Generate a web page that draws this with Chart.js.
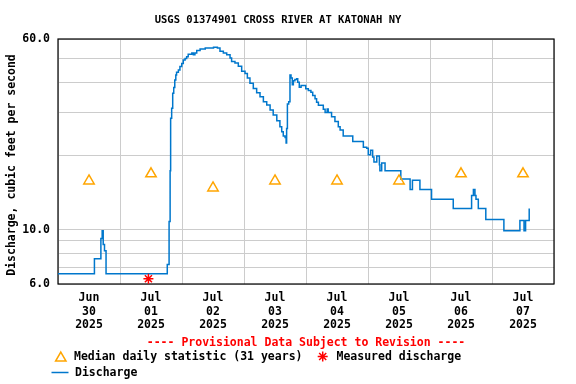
<!DOCTYPE html>
<html>
<head>
<meta charset="utf-8">
<script src="https://cdn.jsdelivr.net/npm/chart.js@4/dist/chart.umd.min.js"></script>
<style>
  html, body { margin: 0; padding: 0; background: #ffffff; }
  #wrap { position: relative; width: 576px; height: 384px; }
  canvas { display: block; }
</style>
</head>
<body>
<div id="wrap"><canvas id="c" width="576" height="384"></canvas></div>
<script>
// ---- data (hours since 2025-06-30 00:00, discharge in cfs) ----
const dischargeHours = [
  0, 14.1, 16.6, 17.1, 17.5, 18.0, 18.6, 42.3, 43.0, 43.4,
  43.6, 44.0, 44.4, 44.8, 45.2, 45.6, 45.9, 46.6, 47.2, 47.9,
  48.5, 49.2, 49.8, 50.4, 51.8, 52.4, 53.0, 53.7, 55.0, 57.0,
  60.2, 61.7, 62.7, 64.0, 65.3, 66.6, 67.2, 68.5, 69.8, 71.1,
  72.4, 73.3, 74.3, 75.6, 76.9, 78.2, 79.5, 80.8, 82.1, 83.3,
  84.7, 85.9, 86.6, 87.2, 87.9, 88.3, 88.5, 88.8, 89.3, 89.8,
  90.2, 90.7, 91.1, 91.7, 92.4, 92.8, 93.4, 94.1, 95.9, 96.9,
  97.9, 98.6, 99.5, 100.1, 100.8, 102.7, 103.4, 104.2, 104.6, 105.9,
  107.2, 108.5, 109.2, 110.4, 114.1, 118.2, 119.5, 120.1, 121.0, 121.8,
  122.3, 123.4, 124.4, 124.6, 125.3, 126.6, 132.7, 136.3, 137.2, 140.1,
  144.6, 153.0, 160.1, 160.8, 161.4, 161.8, 162.7, 165.6, 172.6, 178.8,
  180.4, 181.0, 182.4
];
const dischargeCfs = [
  6.6, 7.6, 9.2, 9.9, 8.7, 8.2, 6.6, 7.2, 10.8, 17.4,
  28.5, 31.3, 36.0, 38.0, 40.8, 42.8, 43.9, 44.8, 46.3, 47.7,
  49.3, 50.0, 50.8, 52.0, 52.6, 51.8, 52.6, 53.8, 54.6, 55.1,
  55.5, 55.1, 53.5, 52.6, 51.8, 50.2, 48.6, 47.9, 46.4, 44.3,
  43.4, 41.6, 39.6, 37.7, 36.2, 34.9, 33.3, 32.3, 30.8, 29.4,
  27.8, 26.3, 25.1, 24.1, 23.8, 22.6, 25.9, 32.6, 33.3, 42.8,
  41.6, 39.0, 40.5, 41.0, 41.3, 40.0, 38.1, 38.8, 37.6, 37.0,
  36.4, 35.3, 34.2, 33.1, 32.2, 31.0, 30.1, 31.1, 30.1, 28.9,
  27.6, 26.3, 25.5, 24.1, 22.9, 21.7, 21.5, 20.2, 21.1, 19.8,
  18.9, 20.0, 18.4, 17.4, 18.7, 17.4, 16.1, 14.6, 15.9, 14.6,
  13.3, 12.2, 13.8, 14.6, 13.8, 13.3, 12.2, 11.0, 9.9, 10.9,
  9.9, 10.9, 12.2
];
const medianHours = [12, 36, 60, 84, 108, 132, 156, 180];
const medianCfs = [15.8, 16.9, 14.8, 15.8, 15.8, 15.8, 16.9, 16.9];
const measuredHours = [35.0];
const measuredCfs = [6.3];

const tickMonths = ['Jun', 'Jul', 'Jul', 'Jul', 'Jul', 'Jul', 'Jul', 'Jul'];
const tickDays = ['30', '01', '02', '03', '04', '05', '06', '07'];
const tickYears = ['2025', '2025', '2025', '2025', '2025', '2025', '2025', '2025'];
const yGridValues = [6, 7, 8, 9, 10, 20, 30, 40, 50, 60];
const yLabelValues = [6, 10, 60];

const titleText = 'USGS 01374901 CROSS RIVER AT KATONAH NY';
const yTitleText = 'Discharge, cubic feet per second';
const provisionalText = '---- Provisional Data Subject to Revision ----';
const legendMedian = 'Median daily statistic (31 years)';
const legendMeasured = 'Measured discharge';
const legendDischarge = 'Discharge';

// ---- styles ----
const FONT = '"DejaVu Sans Mono", "Liberation Mono", monospace';
const BLUE = '#0077cc';
const ORANGE = '#ffa500';
const RED = '#ff0000';
const GRID = '#cccccc';

function drawTriangle(ctx, x, y, r) {
  ctx.save();
  ctx.strokeStyle = ORANGE; ctx.lineWidth = 1.5;
  ctx.beginPath();
  ctx.moveTo(x, y - r);
  ctx.lineTo(x + r * 0.866, y + r / 2);
  ctx.lineTo(x - r * 0.866, y + r / 2);
  ctx.closePath();
  ctx.stroke();
  ctx.restore();
}
function drawStar(ctx, x, y, r) {
  ctx.save();
  ctx.strokeStyle = RED; ctx.lineWidth = 1.5;
  ctx.beginPath();
  for (let k = 0; k < 4; k++) {
    const a = k * Math.PI / 4;
    ctx.moveTo(x - Math.cos(a) * r, y - Math.sin(a) * r);
    ctx.lineTo(x + Math.cos(a) * r, y + Math.sin(a) * r);
  }
  ctx.stroke();
  ctx.restore();
}

const framePlugin = {
  id: 'frame',
  beforeDatasetsDraw(chart) {
    const a = chart.chartArea, ctx = chart.ctx;
    ctx.save();
    ctx.strokeStyle = '#000'; ctx.lineWidth = 1.2;
    ctx.strokeRect(a.left, a.top, a.right - a.left, a.bottom - a.top);
    ctx.restore();
  },
  afterDraw(chart) {
    const ctx = chart.ctx;
    ctx.save();
    ctx.fillStyle = '#000';
    ctx.textBaseline = 'middle';
    // title
    ctx.font = 'bold 10.5px ' + FONT;
    ctx.textAlign = 'center';
    ctx.fillText(titleText, 278, 20);
    // y title
    ctx.save();
    ctx.translate(12, 165);
    ctx.rotate(-Math.PI / 2);
    ctx.font = 'bold 11.5px ' + FONT;
    ctx.fillText(yTitleText, 0, 0);
    ctx.restore();
    // provisional
    ctx.font = 'bold 11.5px ' + FONT;
    ctx.fillStyle = RED;
    ctx.fillText(provisionalText, 306, 343.5);
    // legend
    ctx.fillStyle = '#000';
    ctx.textAlign = 'left';
    drawTriangle(ctx, 60.8, 358, 6);
    ctx.fillText(legendMedian, 74, 357);
    drawStar(ctx, 322.7, 356.5, 5);
    ctx.fillText(legendMeasured, 336.5, 357);
    ctx.strokeStyle = BLUE; ctx.lineWidth = 1.5;
    ctx.beginPath(); ctx.moveTo(51.5, 372.5); ctx.lineTo(68.5, 372.5); ctx.stroke();
    ctx.fillText(legendDischarge, 75, 373);
    ctx.restore();
  }
};

const tickFont = { family: FONT, size: 11.5, weight: 'bold' };

new Chart(document.getElementById('c'), {
  type: 'line',
  data: {
    datasets: [
      {
        label: 'Measured discharge',
        data: measuredHours.map((h, i) => ({ x: h, y: measuredCfs[i] })),
        showLine: false, pointStyle: 'star', pointRadius: 5,
        borderColor: RED, backgroundColor: RED, borderWidth: 1.5
      },
      {
        label: 'Median daily statistic',
        data: medianHours.map((h, i) => ({ x: h, y: medianCfs[i] })),
        showLine: false, pointStyle: 'triangle', pointRadius: 6,
        borderColor: ORANGE, backgroundColor: 'rgba(0,0,0,0)', borderWidth: 1.5
      },
      {
        label: 'Discharge',
        data: dischargeHours.map((h, i) => ({ x: h, y: dischargeCfs[i] })),
        stepped: 'before', borderColor: BLUE, borderWidth: 1.5,
        pointRadius: 0, fill: false
      }
    ]
  },
  options: {
    responsive: false, animation: false,
    layout: { padding: { top: 39, right: 22, left: 0, bottom: 0 } },
    plugins: { legend: { display: false }, title: { display: false }, tooltip: { enabled: false } },
    scales: {
      x: {
        type: 'linear', min: 0, max: 192, bounds: 'data',
        afterBuildTicks: s => { s.ticks = []; for (let h = 0; h <= 192; h += 12) s.ticks.push({ value: h }); },
        afterFit: s => { s.height = 100; },
        grid: {
          drawTicks: false,
          color: c => (c.tick && c.tick.value % 24 === 0) ? GRID : 'rgba(0,0,0,0)',
          lineWidth: 1
        },
        border: { display: false },
        ticks: {
          autoSkip: false, maxRotation: 0, minRotation: 0, padding: 7,
          color: '#000', font: tickFont,
          callback: v => {
            if (v % 24 !== 12) return '';
            const i = (v - 12) / 24;
            return [tickMonths[i], tickDays[i], tickYears[i]];
          }
        }
      },
      y: {
        type: 'logarithmic', min: 6, max: 60, bounds: 'data',
        afterBuildTicks: s => { s.ticks = yGridValues.map(v => ({ value: v })); },
        afterFit: s => { s.width = 58; },
        grid: { drawTicks: false, color: GRID, lineWidth: 1 },
        border: { display: false },
        ticks: {
          autoSkip: false, padding: 8, color: '#000', font: tickFont,
          callback: v => yLabelValues.includes(v) ? v.toFixed(1) : ''
        }
      }
    }
  },
  plugins: [framePlugin]
});
</script>
</body>
</html>
